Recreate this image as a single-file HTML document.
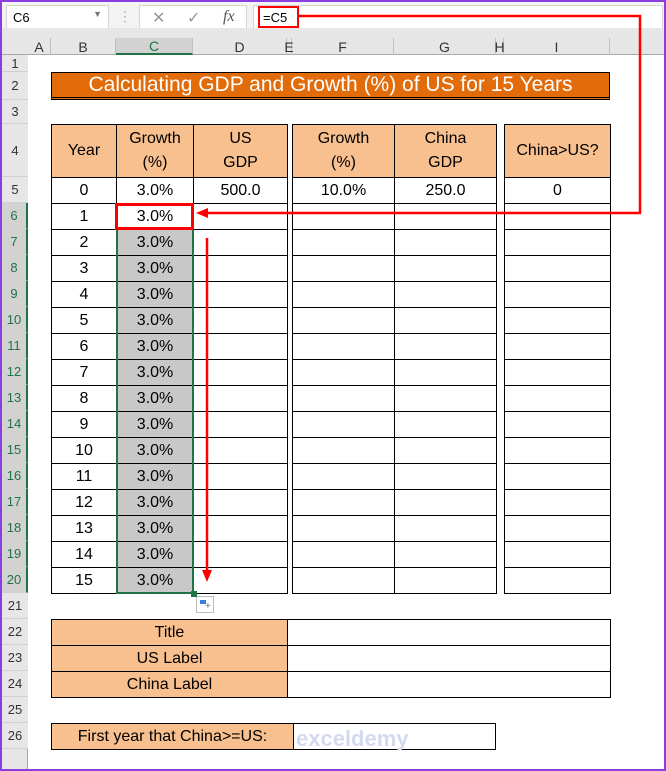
<!DOCTYPE html><html><head><style>
body{margin:0;width:666px;height:771px;overflow:hidden;background:#fff;font-family:"Liberation Sans",sans-serif}
.a{position:absolute;box-sizing:border-box}
.c{display:flex;align-items:center;justify-content:center;font-size:16px;color:#000}
.rh{position:absolute;left:2px;width:26px;font-size:13px;color:#333;display:flex;align-items:center;justify-content:center;border-bottom:1px solid #d0d0d0;box-sizing:border-box;background:#e6e6e6}
.ch{position:absolute;top:38px;height:17px;font-size:14px;color:#333;display:flex;align-items:center;justify-content:center;border-right:1px solid #c0c0c0;box-sizing:border-box}
</style></head><body>
<div class="a" style="left:0;top:0;width:666px;height:771px;border:2px solid #8a3ee0;z-index:50;pointer-events:none"></div>
<div class="a" style="left:0;top:0;width:666px;height:38px;background:#f3f3f3"></div>
<div class="a" style="left:6px;top:5px;width:103px;height:24px;background:#fff;border:1px solid #d4d4d4;font-size:13px;padding:4px 6px">C6<span style="position:absolute;right:6px;top:3px;font-size:9px;color:#777">▼</span></div>
<div class="a" style="left:118px;top:8px;color:#aaa;font-size:14px">⋮</div>
<div class="a" style="left:139px;top:5px;width:108px;height:24px;background:#fff;border:1px solid #d4d4d4;color:#999;font-size:16px"><span style="position:absolute;left:12px;top:2px">✕</span><span style="position:absolute;left:47px;top:2px">✓</span><span style="position:absolute;left:83px;top:2px;font-style:italic;font-family:'Liberation Serif';color:#555">fx</span></div>
<div class="a" style="left:253px;top:5px;width:410px;height:24px;background:#fff;border:1px solid #d4d4d4"></div>
<div class="a" style="left:258px;top:6px;width:41px;height:22px;border:2px solid #f00;font-size:13px;padding:2px 3px">=C5</div>
<div class="a" style="left:0;top:28px;width:666px;height:27px;background:#e6e6e6;border-bottom:1px solid #a8a8a8"></div>
<div class="a" style="left:0;top:55px;width:28px;height:716px;background:#e6e6e6;border-right:1px solid #a8a8a8"></div>
<div class="ch" style="left:28px;width:23px">A</div><div class="ch" style="left:51px;width:65px">B</div>
<div class="ch" style="left:116px;width:77px;color:#217346;background:#d2d2d2;border-bottom:2px solid #217346">C</div>
<div class="ch" style="left:193px;width:94px">D</div><div class="ch" style="left:287px;width:5px">E</div>
<div class="ch" style="left:292px;width:102px">F</div><div class="ch" style="left:394px;width:102px">G</div>
<div class="ch" style="left:496px;width:8px">H</div><div class="ch" style="left:504px;width:106px">I</div>
<div id="rows"></div>
<div class="a c" style="left:51px;top:72px;width:559px;height:28px;background:#e26b0a;border:1px solid #000;border-bottom:3px double #000;color:#fff;font-size:21px">Calculating GDP and Growth (%) of US for 15 Years</div>
<div id="tbl"></div>
<div class="a" style="left:116px;top:203px;width:78px;height:391px;border:2px solid #217346;z-index:5"></div>
<div class="a" style="left:191px;top:591px;width:6px;height:6px;background:#217346;z-index:6"></div>
<div class="a" style="left:196px;top:596px;width:18px;height:17px;border:1px solid #bbb;background:#fff;font-size:10px;color:#777"><div class="a" style="left:3px;top:3px;width:6px;height:4px;background:#3a7fe0"></div><span style="position:absolute;left:8px;top:4px">+</span></div>
<div class="a" style="left:115px;top:203px;width:79px;height:27px;border:3px solid #f00;z-index:7"></div>
<svg class="a" style="left:0;top:0;z-index:8" width="666" height="771">
<polyline points="299,16 640,16 640,213 205,213" fill="none" stroke="#f00" stroke-width="2.5"/>
<polygon points="196,213 208,208 208,218" fill="#f00"/>
<line x1="207" y1="238" x2="207" y2="572" stroke="#f00" stroke-width="2.5"/>
<polygon points="207,582 202,570 212,570" fill="#f00"/>
</svg>
<div class="a" style="left:296px;top:726px;font-size:22px;color:#d4daee;z-index:9;font-weight:bold">exceldemy</div>
<script>
var r=[[1,55,17],[2,72,28],[3,100,24],[4,124,53],[5,177,26]];
for(var i=6;i<=26;i++)r.push([i,203+(i-6)*26,26]);
var h='';r.forEach(function(x){var s=(x[0]>=6&&x[0]<=20)?'background:#d2d2d2;color:#217346;border-right:2px solid #217346;':'';h+='<div class="rh" style="top:'+x[1]+'px;height:'+x[2]+'px;'+s+'">'+x[0]+'</div>'});
document.getElementById('rows').innerHTML=h;
var P='#f8bf8f',t='';
function cell(l,tp,w,hh,txt,bg){t+='<div class="a c" style="left:'+l+'px;top:'+tp+'px;width:'+(w+1)+'px;height:'+(hh+1)+'px;border:1px solid #000;background:'+(bg||'#fff')+';text-align:center;line-height:24px">'+txt+'</div>'}
cell(51,124,65,53,'Year',P);cell(116,124,77,53,'Growth<br>(%)',P);cell(193,124,94,53,'US<br>GDP',P);
cell(292,124,102,53,'Growth<br>(%)',P);cell(394,124,102,53,'China<br>GDP',P);cell(504,124,106,53,'China&gt;US?',P);
for(var y=0;y<=15;y++){var tp=177+y*26;cell(51,tp,65,26,y);cell(116,tp,77,26,'3.0%',y>=2?'#c8c8c8':'#fff');cell(193,tp,94,26,y==0?'500.0':'');cell(292,tp,102,26,y==0?'10.0%':'');cell(394,tp,102,26,y==0?'250.0':'');cell(504,tp,106,26,y==0?'0':'')}
['Title','US Label','China Label'].forEach(function(s,i){cell(51,619+i*26,236,26,s,P);cell(287,619+i*26,323,26,'')});
cell(51,723,242,26,'First year that China&gt;=US:',P);cell(293,723,202,26,'');
document.getElementById('tbl').innerHTML=t;
</script>
</body></html>
